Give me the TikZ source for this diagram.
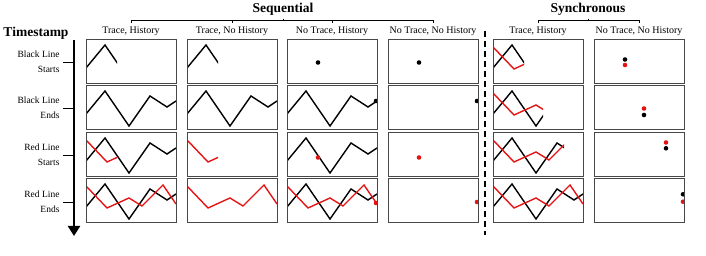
\documentclass[tikz,border=0pt]{standalone}
\usepackage{fontspec}
\setmainfont{Liberation Serif}
\usetikzlibrary{arrows.meta}
\definecolor{linered}{RGB}{228,20,20}
% the two zigzags, in cell coordinates (90 x 44)
\newcommand{\blackzig}{(0,28) -- (19,5) -- (43,40) -- (64,10) -- (81,21) -- (90,15)}
\newcommand{\redzig}{(0,7) -- (21,29) -- (43,19) -- (56,27) -- (77,6) -- (90,25)}
\newcommand{\partto}[2]{\begin{scope}\clip (0,0) rectangle (#1,44); #2\end{scope}}
\newcommand{\bdot}[2]{\fill[black] (#1,#2) circle (2.3);}
\newcommand{\rdot}[2]{\fill[linered] (#1,#2) circle (2.3);}
\newcommand{\plotcell}[3]{\begin{scope}[shift={(#1,#2)}]
  \begin{scope}\clip (0,0) rectangle (90,44); #3\end{scope}
  \draw[frame] (0,0) rectangle (90,44);
\end{scope}}
\tikzset{
  frame/.style={draw=black!72, line width=1pt},
  bl/.style={draw=black, line width=1.4pt},
  rl/.style={draw=linered, line width=1.4pt},
  head/.style={font=\fontsize{10}{12}\selectfont},
  group/.style={font=\fontsize{13.5}{15}\selectfont\bfseries},
  rowlab/.style={anchor=east, align=right, font=\fontsize{9.5}{15.5}\selectfont},
  bracket/.style={line width=0.8pt},
  divider/.style={line width=1.4pt, dash pattern=on 6pt off 4pt},
}
\begin{document}
\begin{tikzpicture}[x=1pt,y=-1pt]
\useasboundingbox (0,0) rectangle (706,256);

% group headings
\node[group] (seq) at (283,9) {Sequential};
\node[group] (syn) at (588,9) {Synchronous};
\node[head] (hA) at (131,31) {Trace, History};
\node[head] (hB) at (232,31) {Trace, No History};
\node[head] (hC) at (332,31) {No Trace, History};
\node[head] (hD) at (433,31) {No Trace, No History};
\node[head] (hE) at (538,31) {Trace, History};
\node[head] (hF) at (639,31) {No Trace, No History};

\draw[bracket] (hA.north) -- (hA.north |- 0,20) -- (hD.north |- 0,20) -- (hD.north);
\draw[bracket] (hB.north) -- (hB.north |- 0,20);
\draw[bracket] (hC.north) -- (hC.north |- 0,20);
\draw[bracket] (seq.south) -- (seq.south |- 0,20);
\draw[bracket] (hE.north) -- (hE.north |- 0,20) -- (hF.north |- 0,20) -- (hF.north);
\draw[bracket] (syn.south) -- (syn.south |- 0,20);

% time axis
\node[group] (ts) at (36,33) {Timestamp};
\coordinate (tTop) at (74,40);
\coordinate (tEnd) at (74,236);
\draw[line width=2.2pt, -{Triangle[width=12pt,length=10pt]}] (tTop) -- (tEnd);

\node[rowlab] (rA) at (63,62) {Black Line\\Starts};
\node[rowlab] (rB) at (63,108) {Black Line\\Ends};
\node[rowlab] (rC) at (63,155) {Red Line\\Starts};
\node[rowlab] (rD) at (63,202) {Red Line\\Ends};
\foreach \r in {rA,rB,rC,rD}
  \draw[bracket] (\r.east) -- (\r.east -| tTop);

\coordinate (dTop) at (485,31);
\coordinate (dBot) at (485,235);
\draw[divider] (dTop) -- (dBot);

% Trace, History
\plotcell{86}{40}{\partto{31}{\draw[bl] \blackzig;}}
\plotcell{86}{86}{\draw[bl] \blackzig;}
\plotcell{86}{133}{\draw[bl] \blackzig; \partto{31}{\draw[rl] \redzig;}}
\plotcell{86}{179}{\draw[bl] \blackzig; \draw[rl] \redzig;}
% Trace, No History
\plotcell{187}{40}{\partto{31}{\draw[bl] \blackzig;}}
\plotcell{187}{86}{\draw[bl] \blackzig;}
\plotcell{187}{133}{\partto{31}{\draw[rl] \redzig;}}
\plotcell{187}{179}{\draw[rl] \redzig;}
% No Trace, History
\plotcell{287}{40}{\bdot{31}{22.5}}
\plotcell{287}{86}{\draw[bl] \blackzig; \bdot{89}{15}}
\plotcell{287}{133}{\draw[bl] \blackzig; \rdot{31}{24.5}}
\plotcell{287}{179}{\draw[bl] \blackzig; \draw[rl] \redzig; \rdot{89}{24}}
% No Trace, No History
\plotcell{388}{40}{\bdot{31}{22.5}}
\plotcell{388}{86}{\bdot{89}{15}}
\plotcell{388}{133}{\rdot{31}{24.5}}
\plotcell{388}{179}{\rdot{89}{23}}
% Synchronous: Trace, History
\plotcell{493}{40}{\partto{31}{\draw[bl] \blackzig; \draw[rl] \redzig;}}
\plotcell{493}{86}{\partto{50}{\draw[bl] \blackzig; \draw[rl] \redzig;}}
\plotcell{493}{133}{\partto{71}{\draw[bl] \blackzig; \draw[rl] \redzig;}}
\plotcell{493}{179}{\draw[bl] \blackzig; \draw[rl] \redzig;}
% Synchronous: No Trace, No History
\plotcell{594}{40}{\bdot{31}{19.5} \rdot{31}{25}}
\plotcell{594}{86}{\rdot{50}{22.5} \bdot{50}{29}}
\plotcell{594}{133}{\rdot{72}{9.5} \bdot{72}{15.3}}
\plotcell{594}{179}{\bdot{89}{15.3} \rdot{89}{22.7}}
\end{tikzpicture}
\end{document}
